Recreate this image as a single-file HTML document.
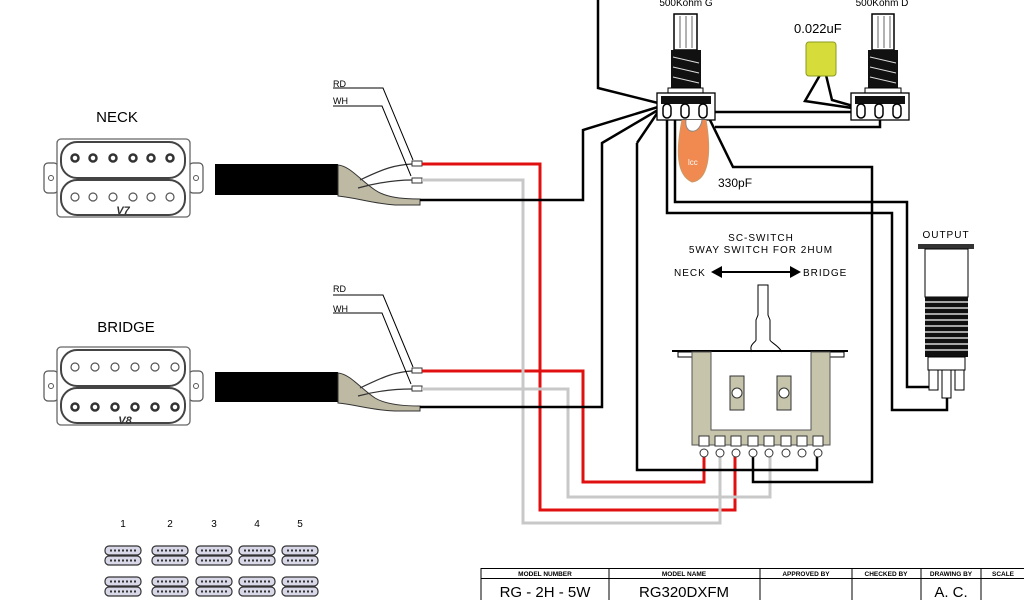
<!DOCTYPE html>
<html><head><meta charset="utf-8"><style>
html,body{margin:0;padding:0;background:#fff;}
svg{display:block;}
text{font-family:"Liberation Sans",sans-serif;}
</style></head><body>
<svg width="1024" height="600" viewBox="0 0 1024 600" xmlns="http://www.w3.org/2000/svg">
<defs>
<g id="hum">
  <rect x="0" y="24" width="14" height="30" rx="4" fill="#fff" stroke="#555" stroke-width="1.2"/>
  <rect x="145" y="24" width="14" height="30" rx="4" fill="#fff" stroke="#555" stroke-width="1.2"/>
  <circle cx="7" cy="39" r="2.5" fill="none" stroke="#555"/>
  <circle cx="152" cy="39" r="2.5" fill="none" stroke="#555"/>
  <rect x="13" y="0" width="133" height="78" rx="4" fill="#fff" stroke="#666" stroke-width="1.3"/>
  <rect x="17" y="3" width="124" height="36" rx="16" fill="#fff" stroke="#444" stroke-width="2"/>
  <rect x="17" y="41" width="124" height="35" rx="16" fill="#fff" stroke="#444" stroke-width="2"/>
</g>
<g id="mini">
  <rect x="0" y="0" width="36" height="9" rx="4" fill="#d8d8e8" stroke="#333" stroke-width="1.2"/>
  <rect x="0" y="10" width="36" height="9" rx="4" fill="#d8d8e8" stroke="#333" stroke-width="1.2"/>
  <path d="M5 4.5h26M5 14.5h26" stroke="#333" stroke-width="2" stroke-dasharray="2,2"/>
</g>
</defs>

<text x="117" y="122" font-size="15" text-anchor="middle">NECK</text>
<use href="#hum" x="44" y="139"/>
<g fill="none" stroke="#333" stroke-width="2.5">
<circle cx="75" cy="158" r="3.5"/><circle cx="93" cy="158" r="3.5"/><circle cx="113" cy="158" r="3.5"/><circle cx="133" cy="158" r="3.5"/><circle cx="151" cy="158" r="3.5"/><circle cx="170" cy="158" r="3.5"/>
</g>
<g fill="none" stroke="#555" stroke-width="1.2">
<circle cx="75" cy="197" r="4"/><circle cx="93" cy="197" r="4"/><circle cx="113" cy="197" r="4"/><circle cx="133" cy="197" r="4"/><circle cx="151" cy="197" r="4"/><circle cx="170" cy="197" r="4"/>
</g>
<text x="123" y="214" font-size="11" font-weight="bold" font-style="italic" text-anchor="middle" fill="#333">V7</text>

<text x="126" y="332" font-size="15" text-anchor="middle">BRIDGE</text>
<use href="#hum" x="44" y="347"/>
<g fill="none" stroke="#555" stroke-width="1.2">
<circle cx="75" cy="367" r="4"/><circle cx="95" cy="367" r="4"/><circle cx="115" cy="367" r="4"/><circle cx="135" cy="367" r="4"/><circle cx="155" cy="367" r="4"/><circle cx="175" cy="367" r="4"/>
</g>
<g fill="none" stroke="#333" stroke-width="2.5">
<circle cx="75" cy="407" r="3.5"/><circle cx="95" cy="407" r="3.5"/><circle cx="115" cy="407" r="3.5"/><circle cx="135" cy="407" r="3.5"/><circle cx="155" cy="407" r="3.5"/><circle cx="175" cy="407" r="3.5"/>
</g>
<text x="125" y="424" font-size="11" font-weight="bold" font-style="italic" text-anchor="middle" fill="#333">V8</text>

<g>
<rect x="215" y="164" width="123" height="31" fill="#000"/>
<path d="M338 165 C350 166,360 180,375 190 C385 197,400 199,420 199 V205 L395 205 C370 203,358 198,338 196Z" fill="#bdb9a3" stroke="#333"/>
<path d="M360 180 C385 168,395 165,412 164 M358 188 C380 182,398 180,412 180" stroke="#333" fill="none" stroke-width="1.2"/>
<rect x="412" y="161" width="10" height="5" fill="#fff" stroke="#333"/>
<rect x="412" y="178" width="10" height="5" fill="#fff" stroke="#333"/>
<rect x="215" y="372" width="123" height="30" fill="#000"/>
<path d="M338 373 C350 374,360 388,375 398 C385 404,400 406,420 406 V411 L395 411 C370 410,358 405,338 403Z" fill="#bdb9a3" stroke="#333"/>
<path d="M360 388 C385 376,395 372,412 371 M358 396 C380 390,398 389,412 389" stroke="#333" fill="none" stroke-width="1.2"/>
<rect x="412" y="368" width="10" height="5" fill="#fff" stroke="#333"/>
<rect x="412" y="386" width="10" height="5" fill="#fff" stroke="#333"/>
</g>
<g font-size="9" fill="#000">
<text x="333" y="87">RD</text><text x="333" y="104">WH</text>
<text x="333" y="292">RD</text><text x="333" y="312">WH</text>
</g>
<g stroke="#000" fill="none" stroke-width="1">
<path d="M333 88H383L413 160M333 106H382L411 176"/>
<path d="M333 295H383L413 367M333 313H382L411 384"/>
</g>

<g fill="none" stroke-width="3">
<path d="M422 164H540V510H735V453" stroke="#e01010"/>
<path d="M422 371H583V482H704V453" stroke="#e01010"/>
<path d="M422 180H523V523H720V453" stroke="#c8c8c8"/>
<path d="M422 389H568V497H770V453" stroke="#c8c8c8"/>
</g>

<g fill="none" stroke="#000" stroke-width="2.5">
<path d="M420 200H583V130L658 107"/>
<path d="M420 407H602V143L658 110"/>
<path d="M598 0V88L658 103"/>
<path d="M637 143L658 112M637 143V470H817V453"/>
<path d="M667 112V213H892V410H947V397"/>
<path d="M675 120V202H907V387H932"/>
<path d="M710 120L733 167H872V482H753V453"/>
<path d="M715 112H852"/>
<path d="M715 127H880V113"/>
<path d="M820 75L805 101L852 108M826 75L832 100L860 108"/>
</g>

<text x="686" y="6" font-size="10" text-anchor="middle">500Kohm G</text>
<rect x="674" y="14" width="23" height="36" fill="#fff" stroke="#000" stroke-width="1.5"/>
<path d="M680 16V48M686 16V48M692 16V48" stroke="#666"/>
<rect x="671" y="50" width="30" height="39" fill="#111"/>
<path d="M673 57L699 63M673 67L699 73M673 77L699 83" stroke="#ddd" stroke-width="1"/>
<rect x="668" y="88" width="35" height="5" fill="#fff" stroke="#000"/>
<rect x="657" y="93" width="58" height="27" fill="#fff" stroke="#000" stroke-width="1.3"/>
<rect x="661" y="96" width="50" height="8" fill="#111"/>
<g fill="#fff" stroke="#000" stroke-width="1.5"><rect x="663" y="104" width="8" height="14" rx="4"/><rect x="681" y="104" width="8" height="14" rx="4"/><rect x="699" y="104" width="8" height="14" rx="4"/></g>
<path d="M682 120 C676 150,676 175,692 182 C708 180,712 155,706 120" fill="#f08a50" stroke="#c96" />
<path d="M686 120 C684 135,700 135,702 120" fill="#fff" stroke="#888"/>
<text x="688" y="165" font-size="8" fill="#fff">lcc</text>
<text x="718" y="187" font-size="12">330pF</text>

<text x="882" y="6" font-size="10" text-anchor="middle">500Kohm D</text>
<rect x="872" y="14" width="22" height="36" fill="#fff" stroke="#000" stroke-width="1.5"/>
<path d="M878 16V48M884 16V48M890 16V48" stroke="#666"/>
<rect x="868" y="50" width="30" height="39" fill="#111"/>
<path d="M870 57L896 63M870 67L896 73M870 77L896 83" stroke="#ddd"/>
<rect x="865" y="88" width="36" height="5" fill="#fff" stroke="#000"/>
<rect x="851" y="93" width="58" height="27" fill="#fff" stroke="#000" stroke-width="1.3"/>
<rect x="855" y="96" width="50" height="8" fill="#111"/>
<g fill="#fff" stroke="#000" stroke-width="1.5"><rect x="857" y="104" width="8" height="14" rx="4"/><rect x="875" y="104" width="8" height="14" rx="4"/><rect x="893" y="104" width="8" height="14" rx="4"/></g>
<text x="794" y="33" font-size="13">0.022uF</text>
<rect x="806" y="42" width="30" height="34" rx="3" fill="#d6dc3a" stroke="#8a9a20"/>

<text x="761" y="241" font-size="10" text-anchor="middle" letter-spacing="1">SC-SWITCH</text>
<text x="761" y="253" font-size="10" text-anchor="middle" letter-spacing="1">5WAY SWITCH FOR 2HUM</text>
<text x="674" y="276" font-size="10" letter-spacing="1">NECK</text>
<text x="803" y="276" font-size="10" letter-spacing="1">BRIDGE</text>
<path d="M720 272H792" stroke="#000" stroke-width="2"/>
<path d="M711 272L722 266V278Z M801 272L790 266V278Z" fill="#000"/>
<path d="M752 352C748 345,756 342,756 340V320L758 315V285H768V315L770 320V340C770 342,778 345,782 352" fill="#fff" stroke="#000"/>
<path d="M672 351H848" stroke="#000" stroke-width="2"/>
<rect x="678" y="352" width="14" height="5" fill="#fff" stroke="#000"/>
<rect x="830" y="352" width="14" height="5" fill="#fff" stroke="#000"/>
<path d="M692 352H711V430H811V352H830V445H692Z" fill="#c7c4ac" stroke="#555"/>
<rect x="730" y="376" width="14" height="34" fill="#c7c4ac" stroke="#333"/>
<rect x="777" y="376" width="14" height="34" fill="#c7c4ac" stroke="#333"/>
<circle cx="737" cy="393" r="5" fill="#fff" stroke="#333"/>
<circle cx="784" cy="393" r="5" fill="#fff" stroke="#333"/>
<g fill="#fff" stroke="#333">
<rect x="699" y="436" width="10" height="10"/><rect x="715" y="436" width="10" height="10"/><rect x="731" y="436" width="10" height="10"/><rect x="748" y="436" width="10" height="10"/><rect x="764" y="436" width="10" height="10"/><rect x="781" y="436" width="10" height="10"/><rect x="797" y="436" width="10" height="10"/><rect x="813" y="436" width="10" height="10"/>
<circle cx="704" cy="453" r="4"/><circle cx="720" cy="453" r="4"/><circle cx="736" cy="453" r="4"/><circle cx="753" cy="453" r="4"/><circle cx="769" cy="453" r="4"/><circle cx="786" cy="453" r="4"/><circle cx="802" cy="453" r="4"/><circle cx="818" cy="453" r="4"/>
</g>

<text x="946" y="238" font-size="10" text-anchor="middle" letter-spacing="1">OUTPUT</text>
<rect x="918" y="244" width="56" height="5" fill="#333"/>
<rect x="925" y="249" width="43" height="48" fill="#fff" stroke="#000"/>
<rect x="925" y="297" width="43" height="60" fill="#111"/>
<path d="M925 302H968M925 308H968M925 314H968M925 320H968M925 326H968M925 332H968M925 338H968M925 344H968M925 350H968" stroke="#fff" stroke-width="1.2"/>
<rect x="928" y="357" width="37" height="13" fill="#fff" stroke="#000"/>
<g fill="#fff" stroke="#000"><rect x="929" y="370" width="9" height="20"/><rect x="942" y="370" width="9" height="28"/><rect x="955" y="370" width="9" height="20"/></g>

<g font-size="10" text-anchor="middle"><text x="123" y="527">1</text><text x="170" y="527">2</text><text x="214" y="527">3</text><text x="257" y="527">4</text><text x="300" y="527">5</text></g>
<use href="#mini" x="105" y="546"/><use href="#mini" x="152" y="546"/><use href="#mini" x="196" y="546"/><use href="#mini" x="239" y="546"/><use href="#mini" x="282" y="546"/>
<use href="#mini" x="105" y="577"/><use href="#mini" x="152" y="577"/><use href="#mini" x="196" y="577"/><use href="#mini" x="239" y="577"/><use href="#mini" x="282" y="577"/>

<g fill="none" stroke="#000" stroke-width="1">
<path d="M481 568.5H1024M481 578.5H1024M481 568V600M609 568V600M760 568V600M852 568V600M921 568V600M981 568V600"/>
</g>
<g font-size="6.5" font-weight="bold" text-anchor="middle">
<text x="545" y="576">MODEL NUMBER</text><text x="684" y="576">MODEL NAME</text><text x="806" y="576">APPROVED BY</text><text x="886" y="576">CHECKED BY</text><text x="951" y="576">DRAWING BY</text><text x="1003" y="576">SCALE</text>
</g>
<g font-size="15" text-anchor="middle">
<text x="545" y="597">RG - 2H - 5W</text><text x="684" y="597">RG320DXFM</text><text x="951" y="597">A. C.</text>
</g>
</svg>
</body></html>
